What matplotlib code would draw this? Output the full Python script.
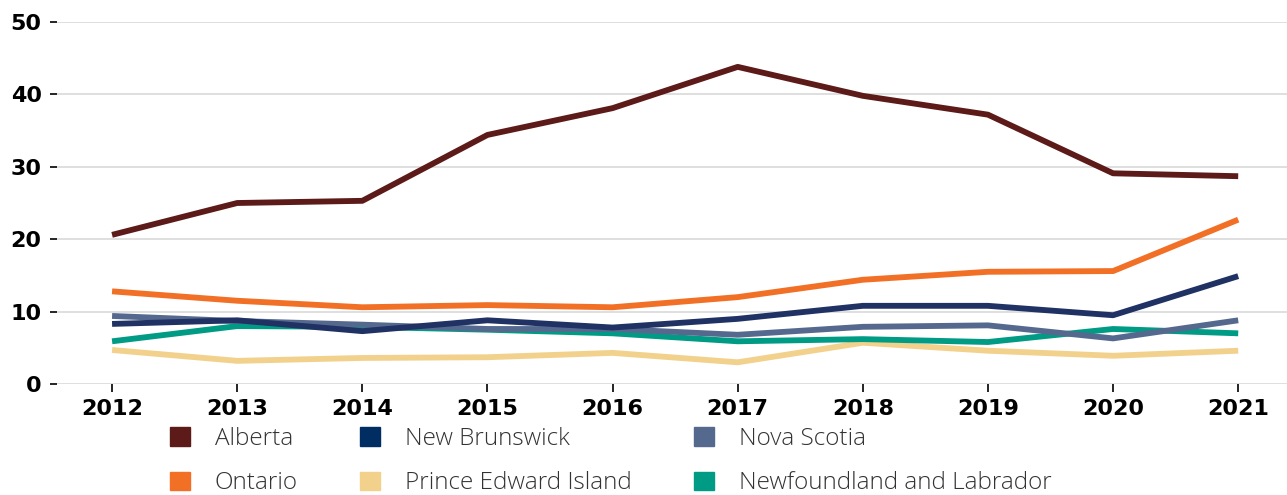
import matplotlib.pyplot as plt
from matplotlib.patches import Patch

years = [2012, 2013, 2014, 2015, 2016, 2017, 2018, 2019, 2020, 2021]
alberta = [20.6, 25.0, 25.3, 34.4, 38.1, 43.8, 39.8, 37.2, 29.1, 28.7]
ontario = [12.8, 11.5, 10.6, 10.9, 10.6, 12.0, 14.4, 15.5, 15.6, 22.7]
new_brunswick = [8.3, 8.8, 7.3, 8.8, 7.8, 9.0, 10.8, 10.8, 9.5, 14.9]
nova_scotia = [9.4, 8.7, 8.2, 7.6, 7.6, 6.8, 7.9, 8.1, 6.3, 8.8]
pei = [4.7, 3.2, 3.6, 3.7, 4.3, 3.0, 5.7, 4.6, 3.9, 4.6]
newfoundland = [5.9, 8.0, 7.9, 7.5, 7.0, 5.9, 6.2, 5.8, 7.6, 7.0]

series = [
    ("Alberta", alberta, "#5c1a18"),
    ("Ontario", ontario, "#f26f26"),
    ("New Brunswick", new_brunswick, "#1f3263"),
    ("Prince Edward Island", pei, "#f2d18c"),
    ("Nova Scotia", nova_scotia, "#55698f"),
    ("Newfoundland and Labrador", newfoundland, "#009b84"),
]
legend_colors = {"New Brunswick": "#002d62"}

fig = plt.figure(figsize=(12.87, 4.95), dpi=100)
ax = fig.add_axes([0.0443, 0.2242, 0.9557, 0.7314])

# draw order so Alberta/Ontario sit on top like the original
draw_order = ["Prince Edward Island", "Newfoundland and Labrador", "Nova Scotia",
              "New Brunswick", "Ontario", "Alberta"]
lookup = {name: (vals, c) for name, vals, c in series}
for name in draw_order:
    vals, c = lookup[name]
    ax.plot(years, vals, color=c, lw=4.2, solid_capstyle="butt", zorder=3)

ax.set_xlim(2011.56, 2021.39)
ax.set_ylim(0, 50)
ax.set_yticks([0, 10, 20, 30, 40, 50])
ax.set_xticks(years)
ax.grid(axis="y", color="#d9d9d9", lw=1.2, zorder=0)
for s in ax.spines.values():
    s.set_visible(False)
ax.tick_params(axis="y", length=5, width=1.2, color="black", pad=6)
ax.tick_params(axis="x", length=6, width=1.2, color="black", pad=5)
for lab in ax.get_xticklabels() + ax.get_yticklabels():
    lab.set_fontweight("bold")
    lab.set_fontsize(16)

handles = [Patch(color=legend_colors.get(n, c), label=n) for n, v, c in series]
fig.legend(handles=handles, ncol=3, loc="upper left",
           bbox_to_anchor=(170 / 1287, (495 - 427) / 495),
           frameon=False, borderpad=0, borderaxespad=0,
           handlelength=0.82, handleheight=0.82, handletextpad=1.03,
           columnspacing=2.55, labelspacing=0.84,
           prop={"family": "Open Sans", "size": 17.5, "weight": "light"},
           labelcolor="#333333")

fig.savefig("out.png", dpi=100)
